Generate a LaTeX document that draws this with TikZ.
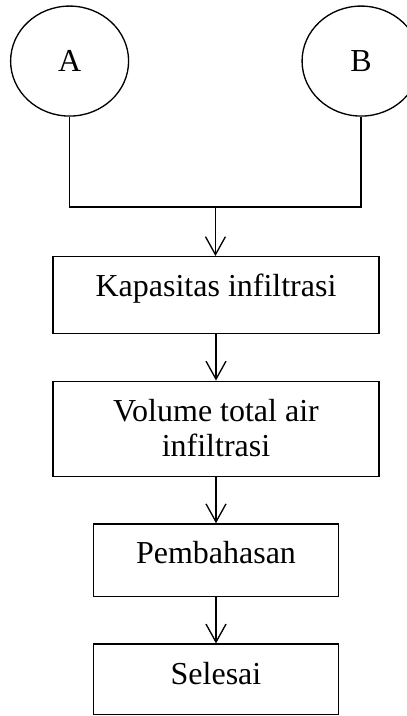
\documentclass[tikz,border=0pt]{standalone}
\usepackage{fontspec}
\setmainfont{Liberation Serif}
\usetikzlibrary{arrows.meta,positioning,shapes.geometric}

\begin{document}
\begin{tikzpicture}[
  node distance=17.3pt,
  every node/.style={font=\fontsize{12pt}{13.1pt}\selectfont,align=center},
  oval/.style={draw,ellipse,line width=0.5pt,minimum width=44.25pt,
               minimum height=41.25pt,inner sep=0pt},
  box/.style={draw,line width=0.5pt,minimum width=122.25pt,
              inner xsep=0pt,inner ysep=0pt,text height=15pt},
  smallbox/.style={box,minimum width=91.9pt},
  arr/.style={-{Straight Barb[length=6.75pt,width=7.5pt]},line width=0.5pt}
]
\useasboundingbox (0,0) rectangle (152.6pt,-268.5pt);

% two start points
\node[oval] (a) at (26.1pt,-22.9pt) {A};
\node[oval] (b) at (135.4pt,-22.9pt) {B};
\coordinate (join) at (80.8pt,-77.6pt);

% steps
\node[box,text depth=13.9pt,anchor=north] (kap) at (81pt,-96pt)
  {Kapasitas infiltrasi};
\node[box,text height=28.1pt,text depth=7.6pt,below=of kap] (vol)
  {Volume total air\\infiltrasi};
\node[smallbox,text depth=12.3pt,below=of vol] (bahas) {Pembahasan};
\node[smallbox,text depth=11.4pt,below=of bahas] (selesai) {Selesai};

\draw[line width=0.5pt] (a.south) |- (join) -| (b.south);
\draw[arr] (join) -- (join |- kap.north);
\draw[arr] (kap) -- (vol);
\draw[arr] (vol) -- (bahas);
\draw[arr] (bahas) -- (selesai);
\end{tikzpicture}
\end{document}
